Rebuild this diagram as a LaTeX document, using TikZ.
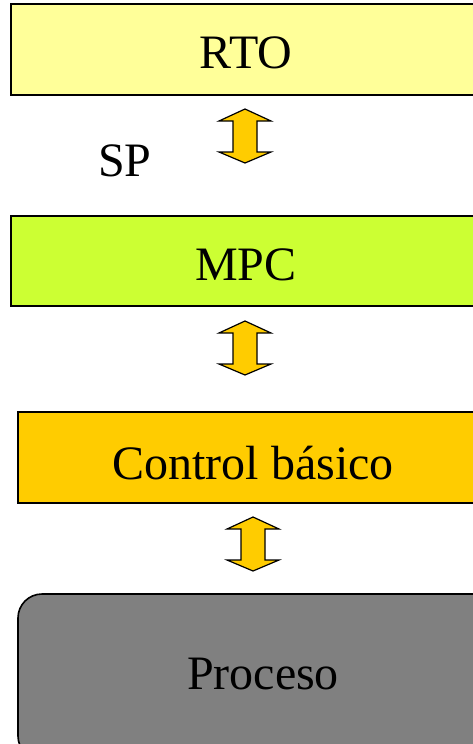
\documentclass[tikz,border=0pt]{standalone}
\usepackage{fontspec}
\setmainfont{Liberation Serif}
\begin{document}
\begin{tikzpicture}[x=1pt,y=-1pt,
  layerbox/.style={draw=black,line width=1.6pt},
  lbl/.style={font=\fontsize{48}{52}\selectfont,anchor=base,inner sep=0pt},
  blockarrow/.style={draw=black,line width=1.2pt,fill=arrowgold,line join=miter}]
\definecolor{rtoyellow}{HTML}{FFFF99}
\definecolor{mpcgreen}{HTML}{CCFF33}
\definecolor{arrowgold}{HTML}{FFCC00}
\definecolor{procgray}{HTML}{808080}
\useasboundingbox (0,0) rectangle (473,744);
\clip (0,0) rectangle (473,744);
% boxes
\path[layerbox,fill=rtoyellow] (11,4) rectangle (490,95);
\path[layerbox,fill=mpcgreen] (11,216) rectangle (490,306);
\path[layerbox,fill=arrowgold] (18,412) rectangle (490,503);
\path[layerbox,fill=procgray,rounded corners=24pt] (18,594) rectangle (520,760);
% labels
\node[lbl] (rto) at (246,68) {RTO};
\node[lbl] (mpc) at (246,280) {MPC};
\node[lbl] (cb) at (253,479) {Control básico};
\node[lbl] (proc) at (263,689) {Proceso};
\node[lbl] (sp) at (125,176) {SP};
% block arrows
\foreach \cx/\ty in {245/109, 245/321, 253/517}{
  \draw[blockarrow] (\cx,\ty) -- ++(26,12) -- ++(-14,0) -- ++(0,31) -- ++(14,0)
    -- ++(-26,11) -- ++(-26,-11) -- ++(14,0) -- ++(0,-31) -- ++(-14,0) -- cycle;
}
\end{tikzpicture}
\end{document}
